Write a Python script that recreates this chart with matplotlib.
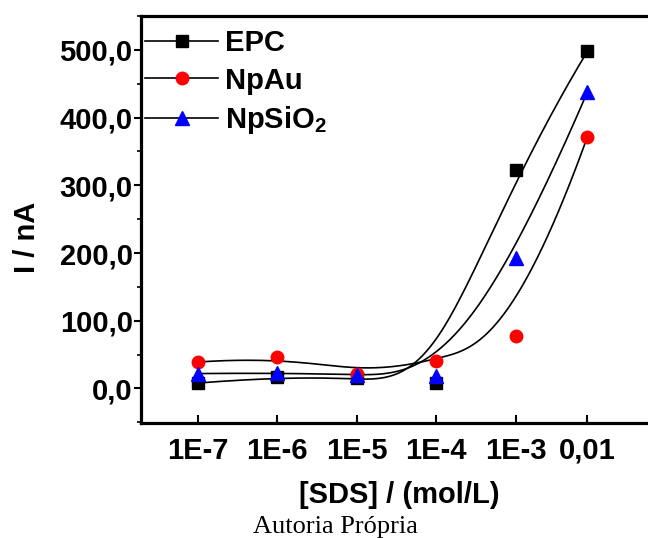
import numpy as np
import matplotlib
matplotlib.use('Agg')
import matplotlib.pyplot as plt
from matplotlib.lines import Line2D
from matplotlib.ticker import FixedLocator, LogLocator, MultipleLocator, NullFormatter

# %% Data
conc = [1e-7, 1e-6, 1e-5, 1e-4, 1e-3, 8e-3]
conc_labels = ['1E-7', '1E-6', '1E-5', '1E-4', '1E-3', '0,01']
epc = [8, 17, 15, 8, 323, 498]
npau = [39, 47, 22, 40, 78, 372]
npsio2 = [22, 23, 20, 19, 192, 438]

y_ticks = [0, 100, 200, 300, 400, 500]
y_tick_labels = ['0,0', '100,0', '200,0', '300,0', '400,0', '500,0']

series = [
    ('EPC', epc, 's', '#000000', 8),
    ('NpAu', npau, 'o', '#ff0000', 9),
    (r'NpSiO$_\mathbf{2}$', npsio2, '^', '#0000ff', 9.5),
]


def bspline(px, py, k=3, num=400):
    # clamped uniform B-spline using the points as control points (Origin "B-Spline")
    P = np.column_stack([px, py]).astype(float)
    n = len(P)
    knots = np.concatenate([np.zeros(k), np.arange(n - k + 1), np.full(k, n - k)]).astype(float)
    t = np.linspace(0, n - k, num)
    t[-1] -= 1e-9
    # Cox-de Boor
    B = np.zeros((num, len(knots) - 1))
    for i in range(len(knots) - 1):
        B[:, i] = (t >= knots[i]) & (t < knots[i + 1])
    for d in range(1, k + 1):
        Bn = np.zeros((num, len(knots) - 1 - d))
        for i in range(len(knots) - 1 - d):
            left = knots[i + d] - knots[i]
            right = knots[i + d + 1] - knots[i + 1]
            term = 0
            if left > 0:
                term = term + (t - knots[i]) / left * B[:, i]
            if right > 0:
                term = term + (knots[i + d + 1] - t) / right * B[:, i + 1]
            Bn[:, i] = term
        B = Bn
    C = B @ P
    return C[:, 0], C[:, 1]


# %% Style
plt.rcParams['font.family'] = ['Liberation Sans', 'DejaVu Sans']
plt.rcParams['font.weight'] = 'bold'
plt.rcParams['mathtext.fontset'] = 'custom'
plt.rcParams['mathtext.rm'] = 'Liberation Sans:bold'
plt.rcParams['mathtext.bf'] = 'Liberation Sans:bold'

fig = plt.figure(figsize=(6.48, 5.38), dpi=100)
ax = fig.add_axes([141 / 648, 115 / 538, 512 / 648, 407 / 538])

logx = np.log10(conc)
for name, vals, mk, col, ms in series:
    cx, cy = bspline(logx, vals)
    ax.plot(10 ** cx, cy, color='black', lw=1.2, zorder=2)

for name, vals, mk, col, ms in series:
    ax.plot(conc, vals, linestyle='none', marker=mk, color=col, ms=ms, zorder=3)

ax.set_xscale('log')
ax.set_xlim(10 ** -7.713, 10 ** -1.273)
ax.set_ylim(-51, 550)

ax.xaxis.set_major_locator(FixedLocator(conc))
ax.set_xticklabels(conc_labels)
ax.xaxis.set_minor_locator(LogLocator(base=10, subs=np.arange(1, 10)))
ax.xaxis.set_minor_formatter(NullFormatter())
ax.set_yticks(y_ticks)
ax.set_yticklabels(y_tick_labels)
ax.yaxis.set_minor_locator(MultipleLocator(50))

ax.tick_params(axis='x', which='major', direction='in', length=6, width=1.5,
               labelsize=21, pad=10)
ax.tick_params(axis='x', which='minor', direction='in', length=3, width=1.2)
ax.tick_params(axis='y', which='major', direction='out', length=5, width=1.5,
               labelsize=21, pad=1)
ax.tick_params(axis='y', which='minor', direction='out', length=3, width=1.2)

for s in ['left', 'bottom', 'top']:
    ax.spines[s].set_linewidth(2.3)
ax.spines['right'].set_visible(False)

ax.set_xlabel('[SDS] / (mol/L)', fontsize=21, fontweight='bold')
ax.xaxis.set_label_coords(0.504, -0.142)
ax.set_ylabel('I / nA', fontsize=21, fontweight='bold')
ax.yaxis.set_label_coords(-0.196, 0.457)

handles = [Line2D([], [], color='black', lw=1.2, marker=mk, ms=ms,
                  markerfacecolor=col, markeredgecolor=col)
           for name, vals, mk, col, ms in series]
ax.legend(handles, [s[0] for s in series], loc='upper left',
          bbox_to_anchor=(0.008, 0.968), frameon=False, numpoints=1,
          handlelength=2.5, handletextpad=0.25, labelspacing=0.33,
          borderpad=0, borderaxespad=0,
          prop={'family': 'Liberation Sans', 'weight': 'bold', 'size': 21})

fig.text(253 / 648, 5 / 538, 'Autoria Própria', fontsize=19,
         family='Liberation Serif', fontweight='normal', va='baseline')

fig.savefig('out.png', dpi=100)
